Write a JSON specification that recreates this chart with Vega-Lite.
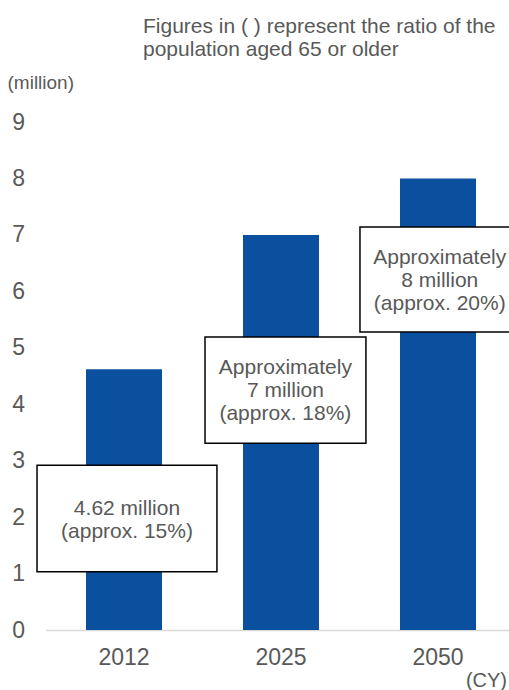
{
  "$schema": "https://vega.github.io/schema/vega-lite/v6.json",
  "autosize": {"type": "none"},
  "width": 463.5,
  "height": 508,
  "padding": {"left": 45.5, "top": 122, "right": 0, "bottom": 60},
  "background": "white",
  "config": {
    "font": "Liberation Sans",
    "view": {"stroke": null}
  },
  "title": {
    "text": ["Figures in ( ) represent the ratio of the", "population aged 65 or older"],
    "anchor": "start",
    "frame": "group",
    "dx": 97.5,
    "fontSize": 21,
    "fontWeight": "normal",
    "color": "#595959",
    "lineHeight": 23,
    "offset": 13
  },
  "datasets": {
    "bars": [
      {"year": "2012", "value": 4.62},
      {"year": "2025", "value": 7},
      {"year": "2050", "value": 8}
    ],
    "notes": [
      {"x1": -0.054, "x2": 1.092, "y1": 1.03, "y2": 2.92, "tx": 0.519, "ty": 2.14, "label": "4.62 million\n(approx. 15%)"},
      {"x1": 1.016, "x2": 2.041, "y1": 3.31, "y2": 5.19, "tx": 1.528, "ty": 4.64, "label": "Approximately\n7 million\n(approx. 18%)"},
      {"x1": 2.003, "x2": 3.05, "y1": 5.28, "y2": 7.14, "tx": 2.511, "ty": 6.59, "label": "Approximately\n8 million\n(approx. 20%)"}
    ]
  },
  "layer": [
    {
      "data": {"name": "bars"},
      "mark": {"type": "bar", "color": "#0b4f9f", "size": 76},
      "encoding": {
        "x": {
          "field": "year",
          "type": "ordinal",
          "scale": {"range": [0, 471], "paddingInner": 0, "paddingOuter": 0},
          "axis": {
            "title": " (CY)",
            "titleFontSize": 20,
            "titleFontWeight": "normal",
            "titleColor": "#595959",
            "titleAlign": "right",
            "titleBaseline": "middle",
            "titleX": 461,
            "titleY": 50,
            "labelAngle": 0,
            "labelFontSize": 23,
            "labelColor": "#595959",
            "labelPadding": 16,
            "ticks": false,
            "domainColor": "#d9d9d9",
            "domainWidth": 1.5,
            "grid": false
          }
        },
        "y": {
          "field": "value",
          "type": "quantitative",
          "scale": {"domain": [0, 9], "nice": false},
          "axis": {
            "values": [0, 1, 2, 3, 4, 5, 6, 7, 8, 9],
            "format": "d",
            "title": "(million)",
            "titleAngle": 0,
            "titleAlign": "left",
            "titleBaseline": "middle",
            "titleX": -38.5,
            "titleY": -40,
            "titleFontSize": 19,
            "titleFontWeight": "normal",
            "titleColor": "#595959",
            "labelFontSize": 23,
            "labelColor": "#595959",
            "labelPadding": 21,
            "ticks": false,
            "domain": false,
            "grid": false
          }
        }
      }
    },
    {
      "data": {"name": "notes"},
      "mark": {"type": "rect", "fill": "white", "stroke": "black", "strokeWidth": 1.5},
      "encoding": {
        "x": {"field": "x1", "type": "quantitative", "scale": {"domain": [0, 3], "range": [0, 471], "nice": false, "zero": false}, "axis": null},
        "x2": {"field": "x2"},
        "y": {"field": "y1", "type": "quantitative"},
        "y2": {"field": "y2"}
      }
    },
    {
      "data": {"name": "notes"},
      "mark": {"type": "text", "fontSize": 21, "color": "#595959", "lineBreak": "\n", "lineHeight": 23, "align": "center", "baseline": "middle"},
      "encoding": {
        "x": {"field": "tx", "type": "quantitative", "scale": {"domain": [0, 3], "range": [0, 471], "nice": false, "zero": false}, "axis": null},
        "y": {"field": "ty", "type": "quantitative"},
        "text": {"field": "label"}
      }
    }
  ],
  "resolve": {"scale": {"x": "independent"}, "axis": {"x": "independent"}}
}
